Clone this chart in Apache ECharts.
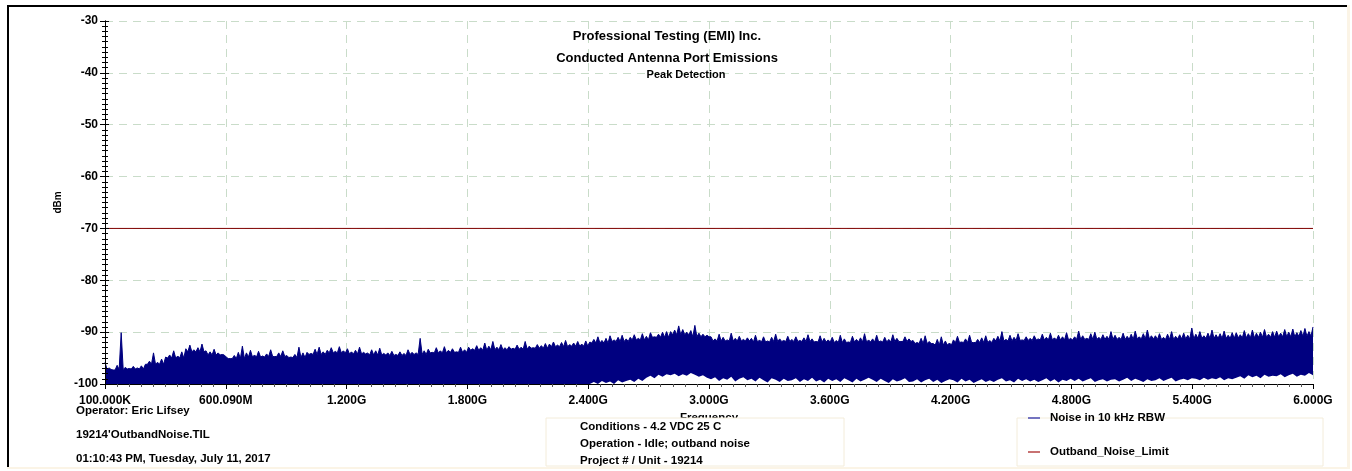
<!DOCTYPE html>
<html>
<head>
<meta charset="utf-8">
<script src="https://cdn.jsdelivr.net/npm/echarts@6/dist/echarts.min.js"></script>
<style>
html, body { margin: 0; padding: 0; background: #fff; }
#chart { width: 1352px; height: 471px; }
</style>
</head>
<body>
<div id="chart"></div>
<script>
// sweep 100 kHz .. 6 GHz (MHz), 300 points: peak and floor of the noise trace
const sweepStart = 0.1
const sweepStop = 6000
const xTickLabels = ['100.000K', '600.090M', '1.200G', '1.800G', '2.400G', '3.000G',
  '3.600G', '4.200G', '4.800G', '5.400G', '6.000G']

// peaks of the trace, one per 20 MHz
const noiseHigh = [
  -95.8, -96.9, -97.3, -96.4, -90.1, -96.8, -97.0, -96.6, -96.9, -96.5,
  -96.2, -95.6, -94.0, -95.8, -95.2, -94.8, -94.4, -93.6, -94.6, -93.8,
  -93.2, -92.5, -93.4, -93.0, -92.3, -93.6, -93.8, -93.3, -94.0, -94.3,
  -94.8, -95.1, -94.5, -93.9, -92.7, -94.0, -93.5, -94.4, -93.7, -94.6,
  -94.2, -93.4, -94.7, -94.0, -93.6, -94.5, -94.8, -94.3, -92.9, -94.0,
  -93.9, -94.1, -93.3, -92.9, -93.8, -93.5, -93.0, -93.7, -92.8, -93.6,
  -93.2, -93.8, -93.5, -92.9, -93.9, -94.0, -93.4, -93.6, -93.1, -94.1,
  -94.0, -93.7, -94.3, -93.8, -94.1, -93.4, -93.9, -94.0, -91.2, -93.6,
  -93.3, -93.9, -93.0, -93.6, -92.8, -93.5, -93.2, -93.8, -92.9, -93.4,
  -92.9, -93.2, -92.6, -93.0, -92.1, -92.7, -91.8, -92.9, -92.4, -93.0,
  -92.8, -93.1, -92.5, -92.9, -91.8, -92.7, -93.0, -92.4, -92.6, -92.2,
  -92.3, -91.9, -92.5, -92.0, -91.6, -92.4, -92.1, -91.8, -92.3, -91.7,
  -91.9, -91.4, -90.9, -91.6, -91.2, -90.7, -91.5, -91.0, -90.6, -91.3,
  -91.0, -90.5, -91.2, -90.3, -90.8, -90.1, -90.9, -90.4, -90.0, -89.9,
  -89.9, -89.6, -88.8, -89.5, -90.0, -89.7, -88.7, -90.2, -90.4, -90.6,
  -90.9, -91.3, -90.4, -91.0, -91.5, -90.2, -91.2, -90.8, -91.4, -91.1,
  -91.2, -90.6, -91.5, -90.9, -91.7, -91.0, -90.4, -91.3, -91.6, -90.8,
  -91.4, -90.9, -91.6, -91.1, -90.5, -91.3, -91.8, -90.7, -91.2, -91.5,
  -91.0, -91.6, -90.6, -91.3, -91.9, -90.8, -91.4, -91.1, -90.3, -91.5,
  -91.3, -90.6, -91.7, -91.0, -91.4, -90.5, -91.2, -91.8, -90.9, -91.3,
  -91.6, -92.0, -91.2, -90.7, -91.8, -92.2, -91.4, -90.9, -91.7, -92.1,
  -91.5, -90.8, -91.9, -91.3, -90.6, -92.0, -91.4, -91.1, -90.7, -91.6,
  -91.2, -90.8, -89.9, -91.4, -90.6, -91.0, -90.3, -91.5, -90.9, -91.2,
  -90.7, -91.3, -90.4, -91.0, -90.2, -91.1, -90.6, -90.9, -90.1, -91.2,
  -90.9, -89.8, -90.7, -91.2, -90.3, -90.0, -91.0, -90.5, -90.8, -89.9,
  -90.6, -91.0, -90.2, -90.8, -90.4, -89.8, -90.9, -90.3, -89.6, -90.7,
  -90.7, -90.3, -91.0, -90.4, -89.9, -90.8, -90.5, -90.2, -90.6, -89.2,
  -90.4, -89.9, -90.7, -90.2, -89.6, -90.5, -90.3, -89.8, -90.6, -90.1,
  -90.1, -90.5, -89.7, -90.3, -89.6, -90.2, -90.0, -89.5, -90.4, -89.9,
  -89.8, -90.2, -89.5, -90.0, -89.4, -90.1, -89.7, -89.3, -89.9, -89.0
]

// solid top of the trace between the peaks, one per 100 MHz
const noiseBody = [
  -97.2, -97.1, -96.2, -95.0, -93.8, -94.4, -95.1, -94.8, -94.7, -94.9,
  -94.3, -94.0, -94.2, -94.4, -94.5, -94.3, -94.0, -93.9, -93.5, -93.4,
  -93.3, -93.1, -92.8, -92.7, -92.1, -91.8, -91.5, -91.0, -90.5, -90.9,
  -91.7, -91.7, -91.9, -91.8, -91.8, -91.9, -92.0, -91.9, -91.9, -91.8,
  -92.2, -92.5, -92.0, -92.0, -91.7, -91.6, -91.5, -91.5, -91.4, -91.4,
  -91.4, -91.3, -91.4, -91.3, -91.2, -91.2, -91.1, -91.0, -90.9, -90.8
]

// lowest points of the trace, one per 20 MHz
const noiseLow = [
  -100, -100, -100, -100, -100, -100, -100, -100, -100, -100,
  -100, -100, -100, -100, -100, -100, -100, -100, -100, -100,
  -100, -100, -100, -100, -100, -100, -100, -100, -100, -100,
  -100, -100, -100, -100, -100, -100, -100, -100, -100, -100,
  -100, -100, -100, -100, -100, -100, -100, -100, -100, -100,
  -100, -100, -100, -100, -100, -100, -100, -100, -100, -100,
  -100, -100, -100, -100, -100, -100, -100, -100, -100, -100,
  -100, -100, -100, -100, -100, -100, -100, -100, -100, -100,
  -100, -100, -100, -100, -100, -100, -100, -100, -100, -100,
  -100, -100, -100, -100, -100, -100, -100, -100, -100, -100,
  -100, -100, -100, -100, -100, -100, -100, -100, -100, -100,
  -100, -100, -100, -100, -100, -100, -100, -100, -100, -100,
  -100, -99.6, -100, -99.4, -99.8, -99.5, -100, -99.3, -99.7, -99.4,
  -99.2, -99.6, -99.0, -99.4, -98.8, -98.4, -98.9, -98.2, -98.6, -98.1,
  -98.3, -98.0, -98.5, -98.1, -98.4, -97.9, -98.2, -98.6, -98.3, -98.8,
  -99.1, -98.7, -99.4, -98.9, -99.2, -98.6, -99.5, -99.0, -98.7, -99.3,
  -99.0, -99.5, -98.8, -99.3, -99.7, -98.9, -99.2, -99.6, -99.0, -99.4,
  -99.3, -98.9, -99.6, -99.1, -99.4, -98.8, -99.5, -99.2, -99.7, -99.0,
  -99.4, -99.1, -99.6, -98.9, -99.3, -99.7, -99.0, -99.5, -99.2, -98.8,
  -99.2, -99.6, -99.0, -99.4, -99.8, -99.1, -99.5, -99.3, -98.9, -99.6,
  -99.5, -99.1, -99.7, -99.3, -99.0, -99.6, -99.2, -99.8, -99.4, -99.1,
  -99.3, -99.7, -99.0, -99.5, -99.2, -99.8, -99.4, -99.1, -99.6, -99.3,
  -99.6, -99.2, -98.9, -99.5, -99.3, -99.7, -99.0, -99.4, -99.1, -99.5,
  -99.2, -99.6, -99.3, -98.9, -99.5, -99.1, -99.7, -99.2, -99.4, -99.0,
  -99.4, -99.0, -99.5, -99.2, -98.9, -99.6, -99.3, -99.1, -99.5, -99.2,
  -99.1, -99.5, -99.2, -98.8, -99.4, -99.0, -99.3, -99.6, -99.1, -99.4,
  -99.3, -98.9, -99.4, -99.1, -98.8, -99.5, -99.2, -99.0, -99.3, -98.9,
  -99.0, -99.3, -98.8, -99.2, -98.9, -99.1, -98.7, -99.3, -98.9, -99.1,
  -98.8, -98.5, -99.0, -98.3, -98.7, -98.4, -98.9, -98.2, -98.6, -98.4,
  -98.5, -98.1, -98.7, -98.3, -98.0, -98.6, -98.2, -98.4, -97.9, -98.3
]

const limitFreq = [sweepStart, sweepStop]
const limitLevel = [-70, -70]

const infoLines = ['Conditions - 4.2 VDC 25 C', 'Operation - Idle; outband noise', 'Project # / Unit - 19214']
const footerLines = ['Operator: Eric Lifsey', "19214'OutbandNoise.TIL", '01:10:43 PM, Tuesday, July 11, 2017']

const FONT = 'Liberation Sans, Arial, sans-serif'
const NAVY = '#000080'
const gridDash = { color: '#c9dcc9', type: [8, 6], width: 1 }

// trace runs peak -> body -> peak, one peak per 20 MHz
let sweepStep = (sweepStop - sweepStart) / (noiseHigh.length - 1)
let peakData = []
noiseHigh.forEach((v, i) => {
  let f = sweepStart + i * sweepStep
  let body = noiseBody[Math.min(noiseBody.length - 1, Math.floor(i * sweepStep / 100))]
  peakData.push([f, v])
  if (i < noiseHigh.length - 1) peakData.push([f + sweepStep / 2, Math.min(body, v)])
})
let floorData = noiseLow.map((v, i) => [sweepStart + i * sweepStep, v])

function textEl(x, y, text, size, align) {
  return {
    type: 'text', z: 51, x: x, y: y,
    style: { text: text, font: 'bold ' + size + 'px ' + FONT, fill: '#000', align: align || 'left', verticalAlign: 'middle' }
  }
}

let myChart = echarts.init(document.getElementById('chart'), null, { renderer: 'canvas' })

let option = {
  animation: false,
  backgroundColor: '#fff',
  textStyle: { fontFamily: FONT },
  grid: { left: 105, right: 39, top: 21, bottom: 87 },
  xAxis: [{
    type: 'value',
    min: 0, max: 6000, interval: 600,
    name: 'Frequency',
    nameLocation: 'middle',
    nameGap: 25,
    nameTextStyle: { fontSize: 11.5, fontWeight: 'bold', color: '#000', fontFamily: FONT },
    axisLine: { show: false },
    axisTick: { show: false },
    axisLabel: {
      fontSize: 12, fontWeight: 'bold', color: '#000', margin: 11, fontFamily: FONT,
      formatter: v => xTickLabels[Math.round(v / 600)]
    },
    splitLine: { show: true, lineStyle: gridDash }
  }, {
    // axis line and ticks drawn above the trace
    type: 'value',
    position: 'bottom',
    min: 0, max: 6000, interval: 600,
    z: 5,
    axisLine: { show: true, onZero: false, lineStyle: { color: '#000', width: 1 } },
    axisTick: { show: true, length: 5, lineStyle: { color: '#000' } },
    minorTick: { show: true, splitNumber: 10, length: 3, lineStyle: { color: '#555' } },
    axisLabel: { show: false },
    splitLine: { show: false }
  }],
  yAxis: [{
    type: 'value',
    min: -100, max: -30, interval: 10,
    name: 'dBm',
    nameLocation: 'middle',
    nameRotate: 90,
    nameGap: 40,
    nameTextStyle: { fontSize: 10, fontWeight: 'bold', color: '#000', fontFamily: FONT },
    axisLine: { show: true, onZero: false, lineStyle: { color: '#000', width: 1 } },
    axisTick: { length: 5, lineStyle: { color: '#000' } },
    minorTick: { show: true, splitNumber: 10, length: 3, lineStyle: { color: '#000' } },
    axisLabel: { fontSize: 12, fontWeight: 'bold', color: '#000', margin: 7, fontFamily: FONT },
    splitLine: { show: true, lineStyle: gridDash }
  }, {
    // inside ticks so they cross the axis line like the original
    type: 'value',
    position: 'left',
    min: -100, max: -30, interval: 10,
    z: 5,
    axisLine: { show: true, onZero: false, lineStyle: { color: '#000' } },
    axisTick: { inside: true, length: 4, lineStyle: { color: '#000' } },
    minorTick: { show: true, splitNumber: 10, length: 3, lineStyle: { color: '#000' } },
    axisLabel: { show: false },
    splitLine: { show: false }
  }],
  legend: {
    left: 1028,
    top: 412,
    orient: 'vertical',
    itemGap: 22,
    itemWidth: 12,
    itemHeight: 2,
    padding: 0,
    icon: 'rect',
    textStyle: { fontSize: 11.5, fontWeight: 'bold', color: '#000', fontFamily: FONT, padding: [0, 0, 0, 5] },
    data: [
      { name: 'Noise in 10 kHz RBW', itemStyle: { color: '#7474c0' } },
      { name: 'Outband_Noise_Limit', itemStyle: { color: '#c87272' } }
    ]
  },
  graphic: [
    // outer frame
    { type: 'rect', z: 50, shape: { x: 7, y: 5, width: 1340, height: 2 }, style: { fill: '#000' } },
    { type: 'rect', z: 50, shape: { x: 7, y: 5, width: 2, height: 463 }, style: { fill: '#000' } },
    { type: 'rect', z: 50, shape: { x: 7, y: 467, width: 1342, height: 2 }, style: { fill: '#fbf4e6' } },
    { type: 'rect', z: 50, shape: { x: 1347, y: 5, width: 3, height: 464 }, style: { fill: '#fbf4e6' } },
    // titles
    textEl(667, 36, 'Professional Testing (EMI) Inc.', 13, 'center'),
    textEl(667, 58, 'Conducted Antenna Port Emissions', 13, 'center'),
    textEl(686, 75, 'Peak Detection', 11, 'center'),
    // conditions box
    { type: 'rect', z: 50, shape: { x: 546, y: 418, width: 298, height: 48 }, style: { fill: '#fff', stroke: '#f3ecda', lineWidth: 1 } },
    textEl(580, 427, infoLines[0], 11.5),
    textEl(580, 444, infoLines[1], 11.5),
    textEl(580, 461, infoLines[2], 11.5),
    // legend box
    { type: 'rect', z: -1, shape: { x: 1017, y: 418, width: 306, height: 48 }, style: { fill: '#fff', stroke: '#f3ecda', lineWidth: 1 } },
    // footer
    textEl(76, 411, footerLines[0], 11.5),
    textEl(76, 435, footerLines[1], 11.5),
    textEl(76, 459, footerLines[2], 11.5)
  ],
  series: [{
    name: 'Noise in 10 kHz RBW',
    type: 'line',
    data: peakData,
    symbol: 'none',
    clip: true,
    lineStyle: { color: NAVY, width: 1 },
    itemStyle: { color: NAVY },
    areaStyle: { color: NAVY, opacity: 1, origin: 'start' },
    z: 2
  }, {
    // noise floor: the trace does not reach below this, left blank
    name: 'floor',
    type: 'line',
    data: floorData,
    symbol: 'none',
    lineStyle: { width: 0 },
    areaStyle: { color: '#fff', opacity: 1, origin: 'start' },
    silent: true,
    z: 3
  }, {
    name: 'Outband_Noise_Limit',
    type: 'line',
    data: limitFreq.map((f, i) => [f, limitLevel[i]]),
    symbol: 'none',
    lineStyle: { color: '#800000', width: 1 },
    itemStyle: { color: '#800000' },
    z: 4
  }]
}

myChart.setOption(option)
</script>
</body>
</html>
